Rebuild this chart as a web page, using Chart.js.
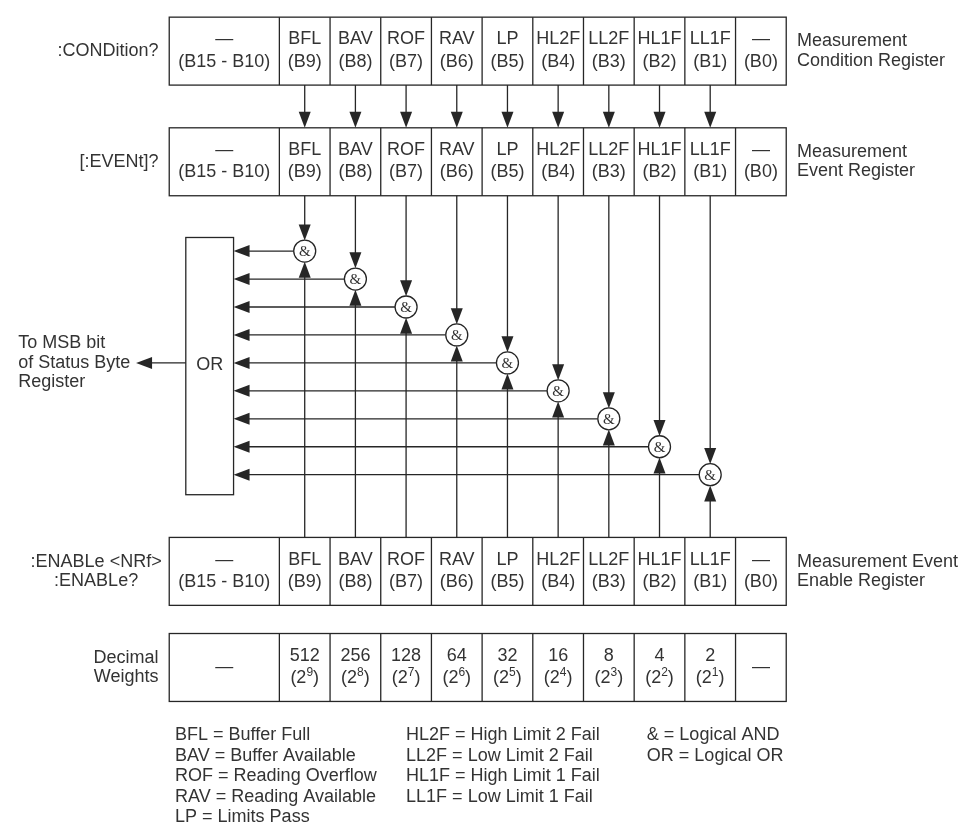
<!DOCTYPE html>
<html>
<head>
<meta charset="utf-8">
<script src="https://cdn.jsdelivr.net/npm/chart.js@4.4.0/dist/chart.umd.min.js"></script>
<style>
  html, body { margin: 0; padding: 0; background: #fff; }
</style>
</head>
<body>
<canvas id="diagram" width="973" height="838"></canvas>
<script>
// register contents
const bitNames = ['BFL', 'BAV', 'ROF', 'RAV', 'LP', 'HL2F', 'LL2F', 'HL1F', 'LL1F'];
const bitNumbers = [9, 8, 7, 6, 5, 4, 3, 2, 1];
const weights = [512, 256, 128, 64, 32, 16, 8, 4, 2];
const commandLabels = [[':CONDition?'], ['[:EVENt]?'], [':ENABLe <NRf>', ':ENABLe?'], ['Decimal', 'Weights']];
const registerNames = [['Measurement', 'Condition Register'], ['Measurement', 'Event Register'], ['Measurement Event', 'Enable Register'], []];
const outputLabel = ['To MSB bit', 'of Status Byte', 'Register'];
const legendCol1 = ['BFL = Buffer Full', 'BAV = Buffer Available', 'ROF = Reading Overflow', 'RAV = Reading Available', 'LP = Limits Pass'];
const legendCol2 = ['HL2F = High Limit 2 Fail', 'LL2F = Low Limit 2 Fail', 'HL1F = High Limit 1 Fail', 'LL1F = Low Limit 1 Fail'];
const legendCol3 = ['& = Logical AND', 'OR = Logical OR'];

// layout (in scale units, the scales span the canvas 1:1)
const BOX_LEFT = 161, DIV0 = 274, COL_W = 52, ROW_H = 70;
const ROW_TOPS = [5, 119, 541, 640];
const GATE_Y0 = 246, GATE_DY = 28.8, GATE_R = 11;
const OR_BOX = { l: 178, r: 227, t: 232, b: 497 };
const INK = '#262626';
const TEXT = '#333';
const FONT = '18px "Liberation Sans", Arial, sans-serif';
const FONT_SUP = '12px "Liberation Sans", Arial, sans-serif';
const FONT_AND = '15px "Liberation Serif", serif';

const colCenter = bit => DIV0 + (9 - bit) * COL_W + COL_W / 2;
const gateRow = i => GATE_Y0 + i * GATE_DY;

const gatePoints = bitNumbers.map((b, i) => ({ x: colCenter(b), y: gateRow(i) }));

function arrow(ctx, x, y, dx, dy) {
  const L = 16, W = 6;
  ctx.beginPath();
  ctx.moveTo(x, y);
  ctx.lineTo(x - dx * L - dy * W, y - dy * L + dx * W);
  ctx.lineTo(x - dx * L + dy * W, y - dy * L - dx * W);
  ctx.closePath();
  ctx.fill();
}

function line(ctx, x1, y1, x2, y2) {
  ctx.beginPath();
  ctx.moveTo(x1, y1);
  ctx.lineTo(x2, y2);
  ctx.stroke();
}

const diagram = {
  id: 'diagram',
  beforeDatasetsDraw(chart) {
    const ctx = chart.ctx;
    const X = v => chart.scales.x.getPixelForValue(v);
    const Y = v => chart.scales.y.getPixelForValue(v);
    const right = DIV0 + 10 * COL_W;
    ctx.save();
    ctx.strokeStyle = INK;
    ctx.lineWidth = 1.3;
    ctx.textBaseline = 'middle';

    // register boxes
    ROW_TOPS.forEach((top, r) => {
      ctx.strokeRect(X(BOX_LEFT), Y(top), X(right) - X(BOX_LEFT), Y(top + ROW_H) - Y(top));
      for (let i = 0; i < 10; i++) line(ctx, X(DIV0 + i * COL_W), Y(top), X(DIV0 + i * COL_W), Y(top + ROW_H));
      const mid = top + ROW_H / 2;
      ctx.fillStyle = TEXT;
      ctx.font = FONT;
      ctx.textAlign = 'center';
      const wideX = X((BOX_LEFT + DIV0) / 2);
      if (r < 3) {
        ctx.fillText('—', wideX, Y(mid - 12));
        ctx.fillText('(B15 - B10)', wideX, Y(mid + 11));
        bitNames.forEach((n, i) => {
          ctx.fillText(n, X(colCenter(bitNumbers[i])), Y(mid - 12));
          ctx.fillText('(B' + bitNumbers[i] + ')', X(colCenter(bitNumbers[i])), Y(mid + 11));
        });
        ctx.fillText('—', X(colCenter(0)), Y(mid - 12));
        ctx.fillText('(B0)', X(colCenter(0)), Y(mid + 11));
      } else {
        ctx.fillText('—', wideX, Y(mid));
        ctx.fillText('—', X(colCenter(0)), Y(mid));
        weights.forEach((w, i) => {
          const cx = X(colCenter(bitNumbers[i]));
          ctx.font = FONT;
          ctx.textAlign = 'center';
          ctx.fillText(String(w), cx, Y(mid - 12));
          const a = '(2', s = String(bitNumbers[i]), c = ')';
          const wa = ctx.measureText(a).width, wc = ctx.measureText(c).width;
          ctx.font = FONT_SUP;
          const ws = ctx.measureText(s).width;
          let x = cx - (wa + ws + wc) / 2;
          ctx.textAlign = 'left';
          ctx.font = FONT; ctx.fillText(a, x, Y(mid + 11)); x += wa;
          ctx.font = FONT_SUP; ctx.fillText(s, x, Y(mid + 5)); x += ws;
          ctx.font = FONT; ctx.fillText(c, x, Y(mid + 11));
        });
      }

      // labels left and right of the registers
      ctx.font = FONT;
      const cmd = commandLabels[r];
      const dyL = cmd.length === 2 ? 10 : 0;
      cmd.forEach((t, k) => {
        if (r === 2) { ctx.textAlign = 'center'; ctx.fillText(t, X(86), Y(mid - dyL + k * 20)); }
        else { ctx.textAlign = 'right'; ctx.fillText(t, X(150), Y(mid - dyL + k * 20)); }
      });
      ctx.textAlign = 'left';
      registerNames[r].forEach((t, k) => ctx.fillText(t, X(805), Y(mid - 10 + k * 20)));
    });

    ctx.fillStyle = INK;
    // condition -> event arrows
    const r1b = ROW_TOPS[0] + ROW_H, r2t = ROW_TOPS[1], r2b = ROW_TOPS[1] + ROW_H, r3t = ROW_TOPS[2];
    bitNumbers.forEach(b => {
      const cx = X(colCenter(b));
      line(ctx, cx, Y(r1b), cx, Y(r2t) - 10);
      arrow(ctx, cx, Y(r2t), 0, 1);
    });

    // event and enable bits into the AND gates, gates into the OR
    bitNumbers.forEach((b, i) => {
      const cx = X(colCenter(b)), gy = gateRow(i);
      line(ctx, cx, Y(r2b), cx, Y(gy - GATE_R) - 10);
      arrow(ctx, cx, Y(gy - GATE_R), 0, 1);
      line(ctx, cx, Y(r3t), cx, Y(gy + GATE_R) + 10);
      arrow(ctx, cx, Y(gy + GATE_R), 0, -1);
      line(ctx, cx - GATE_R, Y(gy), X(OR_BOX.r) + 10, Y(gy));
      arrow(ctx, X(OR_BOX.r), Y(gy), -1, 0);
    });

    // OR box and output
    ctx.fillStyle = '#fff';
    ctx.fillRect(X(OR_BOX.l), Y(OR_BOX.t), X(OR_BOX.r) - X(OR_BOX.l), Y(OR_BOX.b) - Y(OR_BOX.t));
    ctx.strokeRect(X(OR_BOX.l), Y(OR_BOX.t), X(OR_BOX.r) - X(OR_BOX.l), Y(OR_BOX.b) - Y(OR_BOX.t));
    ctx.fillStyle = INK;
    line(ctx, X(OR_BOX.l), Y(gateRow(4)), X(127) + 10, Y(gateRow(4)));
    arrow(ctx, X(127), Y(gateRow(4)), -1, 0);
    ctx.fillStyle = TEXT;
    ctx.textAlign = 'center';
    ctx.fillText('OR', X((OR_BOX.l + OR_BOX.r) / 2), Y(gateRow(4) + 2));
    ctx.textAlign = 'left';
    outputLabel.forEach((t, k) => ctx.fillText(t, X(6), Y(gateRow(4) - 20 + k * 20)));

    // legend
    [[legendCol1, 167], [legendCol2, 404], [legendCol3, 651]].forEach(([col, lx]) => {
      col.forEach((t, k) => ctx.fillText(t, X(lx), Y(745 + k * 21)));
    });
    ctx.restore();
  },
  afterDatasetsDraw(chart) {
    const ctx = chart.ctx;
    const meta = chart.getDatasetMeta(0);
    ctx.save();
    ctx.fillStyle = TEXT;
    ctx.font = FONT_AND;
    ctx.textAlign = 'center';
    ctx.textBaseline = 'middle';
    meta.data.forEach(pt => ctx.fillText('&', pt.x, pt.y + 1));
    ctx.restore();
  }
};

new Chart(document.getElementById('diagram'), {
  type: 'scatter',
  data: {
    datasets: [{
      label: 'AND',
      data: gatePoints,
      pointRadius: GATE_R,
      pointHoverRadius: GATE_R,
      pointBackgroundColor: '#fff',
      pointBorderColor: INK,
      pointBorderWidth: 1.3
    }]
  },
  options: {
    responsive: false,
    animation: false,
    devicePixelRatio: 1,
    events: [],
    layout: { padding: 0 },
    scales: {
      x: { type: 'linear', min: 0, max: 973, display: false },
      y: { type: 'linear', min: 0, max: 838, reverse: true, display: false }
    },
    plugins: {
      legend: { display: false },
      tooltip: { enabled: false }
    }
  },
  plugins: [diagram]
});
</script>
</body>
</html>
